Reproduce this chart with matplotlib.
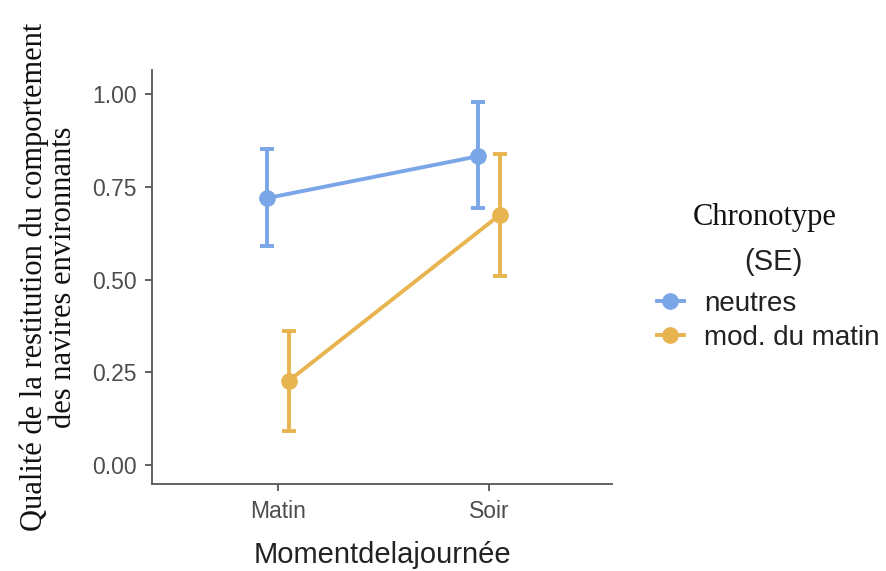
import numpy as np
import matplotlib.pyplot as plt
from matplotlib.lines import Line2D

# data
moments = ['Matin', 'Soir']
groups = ['neutres', 'mod. du matin']
colors = ['#7aa6e8', '#e8b44f']
means_neutres = [0.72, 0.833]
lo_neutres = [0.59, 0.693]
hi_neutres = [0.852, 0.978]
means_matin = [0.226, 0.674]
lo_matin = [0.092, 0.509]
hi_matin = [0.361, 0.838]

fig = plt.figure(figsize=(8.87, 5.71), dpi=100)
ax = fig.add_axes([0.1714, 0.1524, 0.5186, 0.7246])

x = np.arange(1, len(moments) + 1)
dodge = 0.05
series = [(means_neutres, lo_neutres, hi_neutres), (means_matin, lo_matin, hi_matin)]
for i, (m, lo, hi) in enumerate(series):
    xs = x + (-dodge if i == 0 else dodge)
    m = np.array(m)
    err = [m - np.array(lo), np.array(hi) - m]
    ax.errorbar(xs, m, yerr=err, color=colors[i], lw=2.8, marker='o', ms=11,
                capsize=5, capthick=2.8, elinewidth=2.8)

ax.set_xlim(0.403, 2.583)
ax.set_ylim(-0.052, 1.065)
ax.set_xticks(x)
ax.set_xticklabels(moments)
ax.set_yticks([0, 0.25, 0.5, 0.75, 1.0])
ax.set_yticklabels(['0.00', '0.25', '0.50', '0.75', '1.00'])
for s in ['top', 'right']:
    ax.spines[s].set_visible(False)
for s in ['left', 'bottom']:
    ax.spines[s].set_color('#555555')
    ax.spines[s].set_linewidth(1.3)
ax.tick_params(colors='#555555', labelcolor='#4d4d4d', labelsize=16.5, length=5, width=1.3)
ax.tick_params(axis='y', pad=6)
ax.tick_params(axis='x', pad=6.5)
for lab in ax.get_xticklabels() + ax.get_yticklabels():
    lab.set_family('Liberation Sans')

ax.set_xlabel('Momentdelajournée', fontsize=21, family='Liberation Sans', color='#222222', labelpad=13)
ax.set_ylabel('Qualité de la restitution du comportement\ndes navires environnants',
              fontsize=22, family='Liberation Serif', color='#111111', labelpad=10, linespacing=1.0)

fig.text(765 / 887, 1 - 218 / 571, 'Chronotype', fontsize=22, family='Liberation Serif',
         ha='center', va='center', color='#111111')
fig.text(773 / 887, 1 - 262 / 571, '(SE)', fontsize=21, family='Liberation Sans',
         ha='center', va='center', color='#222222')

handles = [Line2D([0], [0], color=c, lw=2.8, marker='o', ms=11) for c in colors]
fig.legend(handles, groups, loc='upper left', bbox_to_anchor=(651 / 887, 1 - 285 / 571),
           frameon=False, handlelength=1.0, handletextpad=0.7, labelspacing=0.3,
           borderpad=0.2, borderaxespad=0,
           prop={'family': 'Liberation Sans', 'size': 20}, labelcolor='#222222')

fig.savefig('out.png', dpi=100)
